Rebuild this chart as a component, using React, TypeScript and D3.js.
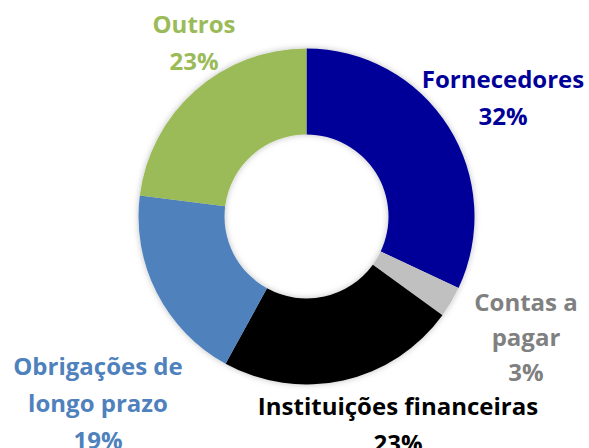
import React from "react";
import * as d3 from "d3";

const categories = ["Fornecedores", "Contas a pagar", "Instituições financeiras", "Obrigações de longo prazo", "Outros"];
const values = [32, 3, 23, 19, 23];
const sliceColors = ["#000099", "#C0C0C0", "#000000", "#4F81BD", "#9BBB59"];
const labelColors = ["#000099", "#808080", "#000000", "#4F81BD", "#9BBB59"];
const labelLines = [
  ["Fornecedores", "32%"],
  ["Contas a", "pagar", "3%"],
  ["Instituições financeiras", "23%"],
  ["Obrigações de", "longo prazo", "19%"],
  ["Outros", "23%"],
];

const W = 589;
const H = 448;
const cx = 306.5;
const cy = 216.5;
const outerR = 168;
const innerR = 82;

// label anchor: [centerX, firstBaseline, lineSpacing]
const labelPos: [number, number, number][] = [
  [503, 88, 37],
  [526, 311, 35],
  [398, 415, 37],
  [98, 375, 37],
  [194, 33, 37],
];

export default function App() {
  const pie = d3.pie<number>().sort(null).value((d) => d)(values);
  const arc = d3.arc<d3.PieArcDatum<number>>().innerRadius(innerR).outerRadius(outerR);
  return (
    <svg width={W} height={H} style={{ position: "absolute", left: 0, top: 0, display: "block", background: "#fff" }}>
      <defs>
        <filter id="sh" x="-20%" y="-20%" width="140%" height="140%">
          <feDropShadow dx="0" dy="0" stdDeviation="3" floodColor="#000" floodOpacity="0.25" />
        </filter>
      </defs>
      <g transform={`translate(${cx},${cy})`} filter="url(#sh)">
        {pie.map((p, i) => (
          <path key={categories[i]} d={arc(p) || ""} fill={sliceColors[i]} />
        ))}
      </g>
      {labelLines.map((lines, i) => {
        const [x, y0, dy] = labelPos[i];
        return (
          <text
            key={categories[i]}
            textAnchor="middle"
            fontFamily="'Open Sans', sans-serif"
            fontWeight={700}
            fontSize={24}
            fill={labelColors[i]}
          >
            {lines.map((l, j) => (
              <tspan key={j} x={x} y={y0 + j * dy}>
                {l}
              </tspan>
            ))}
          </text>
        );
      })}
    </svg>
  );
}
